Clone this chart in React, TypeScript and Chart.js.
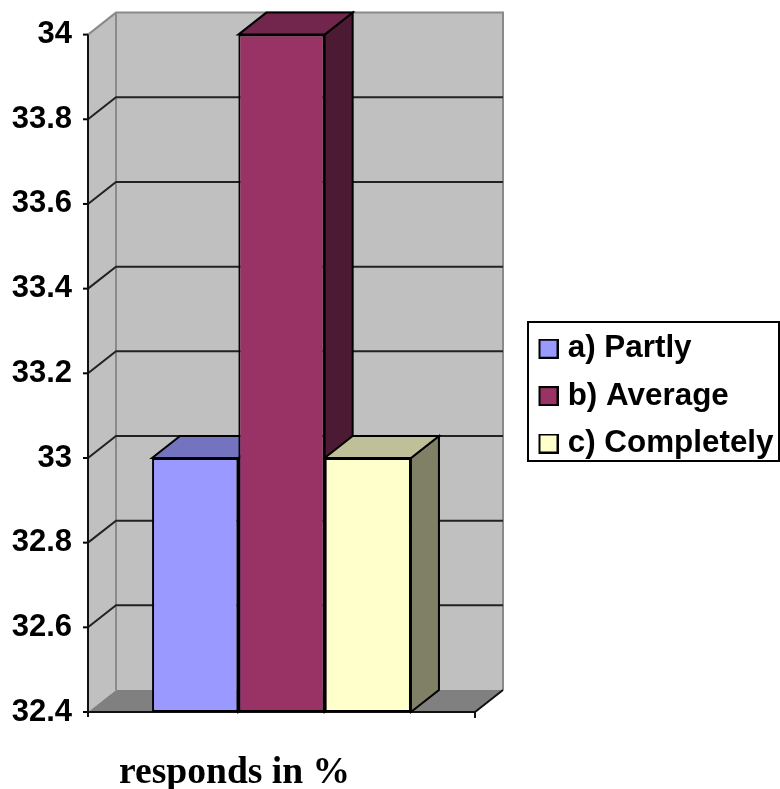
import React, { useEffect, useRef } from "react";
import { Chart, registerables } from "chart.js";

Chart.register(...registerables);

const categories = ["responds in %"];
const seriesNames = ["a) Partly", "b) Average", "c) Completely"];
const partly = [33];
const average = [34];
const completely = [33];
const seriesColors = ["#9999FF", "#993366", "#FFFFCC"];
const yTickValues = [34, 33.8, 33.6, 33.4, 33.2, 33, 32.8, 32.6, 32.4];
const axisTitle = "responds in %";
const baseValue = 32.4;

const DX = 28;
const DY = 22;
const SANS = '"Liberation Sans", Arial, sans-serif';
const SERIF = '"Liberation Serif", "Times New Roman", serif';

function shade(hex: string, k: number) {
  const n = parseInt(hex.slice(1), 16);
  const c = [(n >> 16) & 255, (n >> 8) & 255, n & 255].map((v) => Math.round(v * k));
  return `rgb(${c[0]},${c[1]},${c[2]})`;
}

function poly(ctx: CanvasRenderingContext2D, pts: number[][], fill: string | null, stroke: string | null, lw = 2) {
  ctx.beginPath();
  pts.forEach((p, i) => (i ? ctx.lineTo(p[0], p[1]) : ctx.moveTo(p[0], p[1])));
  if (fill) {
    ctx.closePath();
    ctx.fillStyle = fill;
    ctx.fill();
  }
  if (stroke) {
    ctx.strokeStyle = stroke;
    ctx.lineWidth = lw;
    ctx.stroke();
  }
}

function swatch(color: string) {
  const c = document.createElement("canvas");
  c.width = 27;
  c.height = 20;
  const g = c.getContext("2d")!;
  g.fillStyle = color;
  g.fillRect(7, 0, 20, 20);
  g.strokeStyle = "#000";
  g.lineWidth = 2;
  g.strokeRect(8, 1, 18, 18);
  return c;
}

const scene3d = {
  id: "scene3d",
  beforeLayout(chart: any) {
    const l = chart.legend;
    if (l && !l.__wrapped) {
      l.__wrapped = true;
      const fit = l.fit.bind(l);
      l.fit = () => {
        fit();
        l.width = chart.width - 475;
      };
    }
  },
  afterLayout(chart: any) {
    const l = chart.legend;
    l.left = 522;
    l.right = 800;
    l.top = 317;
    chart.scales.x.left = 119;
  },
  beforeDatasetsDraw(chart: any) {
    const { ctx, chartArea: a, scales } = chart;
    const y = scales.y;
    const L = a.left;
    const R = a.right;
    const T = a.top;
    const B = a.bottom;
    ctx.save();
    // walls and floor
    poly(ctx, [[L, T], [L + DX, T - DY], [L + DX, B - DY], [L, B]], "#C0C0C0", null);
    poly(ctx, [[L + DX, T - DY], [R + DX, T - DY], [R + DX, B - DY], [L + DX, B - DY]], "#C0C0C0", null);
    poly(ctx, [[L, B], [R, B], [R + DX, B - DY], [L + DX, B - DY]], "#808080", null);
    poly(ctx, [[L, T], [L + DX, T - DY], [R + DX, T - DY], [R + DX, B - DY]], null, "#8a8a8a");
    poly(ctx, [[L + DX, T - DY], [L + DX, B - DY]], null, "#8a8a8a");
    // gridlines and ticks from the value scale
    yTickValues.forEach((v) => {
      const py = y.getPixelForValue(v);
      if (v > y.min && v < y.max) {
        poly(ctx, [[L, py], [L + DX, py - DY], [R + DX, py - DY]], null, "#222");
      }
      poly(ctx, [[L - 5, py], [L, py]], null, "#000");
    });
    // front axis lines
    poly(ctx, [[L, T], [L, B + 5]], null, "#111");
    poly(ctx, [[L, B], [R, B], [R + DX, B - DY]], null, "#111");
    poly(ctx, [[R, B], [R, B + 6]], null, "#111");
    // bar depth faces, left to right
    chart.data.datasets.forEach((ds: any, i: number) => {
      const el = chart.getDatasetMeta(i).data[0];
      const { x, y: top, base, width } = el.getProps(["x", "y", "base", "width"], true);
      const x0 = x - width / 2;
      const x1 = x + width / 2;
      const col = ds.backgroundColor as string;
      poly(ctx, [[x1, top], [x1 + DX, top - DY], [x1 + DX, base - DY], [x1, base]], shade(col, 0.5), "#000");
      poly(ctx, [[x0, top], [x0 + DX, top - DY], [x1 + DX, top - DY], [x1, top]], shade(col, 0.75), "#000");
    });
    // legend frame
    ctx.strokeStyle = "#000";
    ctx.lineWidth = 2;
    ctx.strokeRect(528, 322, 251, 139);
    ctx.restore();
  },
};

export default function App() {
  const ref = useRef<HTMLCanvasElement>(null);
  useEffect(() => {
    const series = [partly, average, completely];
    const chart = new Chart(ref.current!, {
      type: "bar",
      data: {
        labels: categories,
        datasets: seriesNames.map((label, i) => ({
          label,
          data: series[i],
          base: baseValue,
          backgroundColor: seriesColors[i],
          borderColor: "#000",
          borderWidth: 2,
          borderSkipped: false,
        })),
      },
      plugins: [scene3d],
      options: {
        animation: false,
        responsive: false,
        categoryPercentage: 0.669,
        barPercentage: 1,
        layout: { padding: { top: 34, left: 0, right: 0, bottom: 0 } },
        plugins: {
          tooltip: { enabled: false },
          title: { display: false },
          legend: {
            display: true,
            position: "right",
            align: "start",
            onClick: () => {},
            labels: {
              usePointStyle: true,
              pointStyleWidth: 14,
              padding: 16,
              color: "#000",
              font: { family: SANS, size: 31.4, weight: "bold" },
              generateLabels: () =>
                seriesNames.map((text, i) => ({
                  text,
                  datasetIndex: i,
                  pointStyle: swatch(seriesColors[i]),
                  fillStyle: seriesColors[i],
                  strokeStyle: "#000",
                  lineWidth: 0,
                  hidden: false,
                })) as any,
            },
          },
        },
        scales: {
          x: {
            grid: { display: false },
            border: { display: false },
            ticks: { display: false },
            title: {
              display: true,
              text: axisTitle,
              align: "start",
              color: "#000",
              padding: { top: 0, bottom: -3 },
              font: { family: SERIF, size: 37.6, weight: "bold", lineHeight: 1 },
            },
            afterFit: (s: any) => {
              s.height = 77;
            },
          },
          y: {
            min: 32.4,
            max: 34,
            grid: { display: false, drawTicks: false },
            border: { display: false },
            afterBuildTicks: (s: any) => {
              s.ticks = yTickValues.map((value) => ({ value }));
            },
            afterFit: (s: any) => {
              s.width = 88;
            },
            ticks: {
              padding: 16,
              autoSkip: false,
              color: "#000",
              font: { family: SANS, size: 31, weight: "bold" },
              callback: (v: any) => String(v),
            },
          },
        },
      } as any,
    });
    return () => chart.destroy();
  }, []);
  return (
    <div style={{ position: "absolute", left: 0, top: 0, width: 780, height: 789, overflow: "hidden", background: "#fff" }}>
      <canvas ref={ref} width={780} height={789} style={{ display: "block" }} />
    </div>
  );
}
